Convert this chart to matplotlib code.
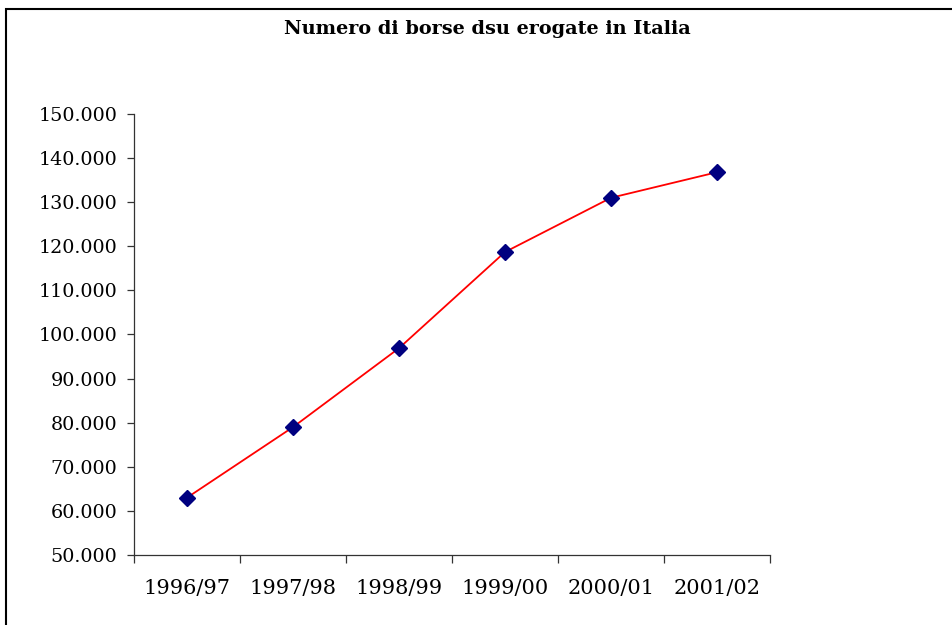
import matplotlib
matplotlib.use("Agg")
import matplotlib.pyplot as plt
from matplotlib.patches import Rectangle
from matplotlib.ticker import FuncFormatter, MultipleLocator

# anni accademici e numero di borse
anni = ['1996/97', '1997/98', '1998/99', '1999/00', '2000/01', '2001/02']
borse = [63000, 79000, 96900, 118700, 131000, 136800]

plt.rcParams['font.family'] = 'DejaVu Serif'

fig = plt.figure(figsize=(9.52, 6.25), dpi=100)
ax = fig.add_axes([134/952, 1-555/625, (770-134)/952, (555-114)/625])

# cornice esterna (tagliata a destra e in basso come nell'originale)
fig.patches.append(Rectangle((6/952, -0.1), 1.2, 1-9/625+0.1, transform=fig.transFigure,
                             fill=False, edgecolor='black', linewidth=1.5))

x = range(len(anni))
ax.plot(x, borse, color='red', linewidth=1.3, marker='D', markersize=8,
        markerfacecolor='#000080', markeredgecolor='#000080', zorder=3)

ax.set_xlim(-0.5, len(anni)-0.5)
ax.set_ylim(50000, 150000)
ax.yaxis.set_major_locator(MultipleLocator(10000))
ax.yaxis.set_major_formatter(FuncFormatter(lambda v, p: '{:,.0f}'.format(v).replace(',', '.')))
ax.set_xticks([i-0.5 for i in range(len(anni)+1)])
ax.set_xticklabels([])
for i, a in enumerate(anni):
  ax.text(i, -0.055, a, transform=ax.get_xaxis_transform(), ha='center', va='top', fontsize=15)

for s in ['top', 'right']:
  ax.spines[s].set_visible(False)
for s in ['left', 'bottom']:
  ax.spines[s].set_linewidth(0.9)
  ax.spines[s].set_color('#333333')
ax.tick_params(axis='y', length=5, width=0.9, color='#333333', labelsize=13.8, pad=7)
ax.tick_params(axis='x', length=6, width=0.9, color='#333333')

fig.text(487/952, 1-29/625, 'Numero di borse dsu erogate in Italia', ha='center', va='center',
         fontsize=13.9, fontweight='bold')

fig.savefig('out.png', dpi=100)
